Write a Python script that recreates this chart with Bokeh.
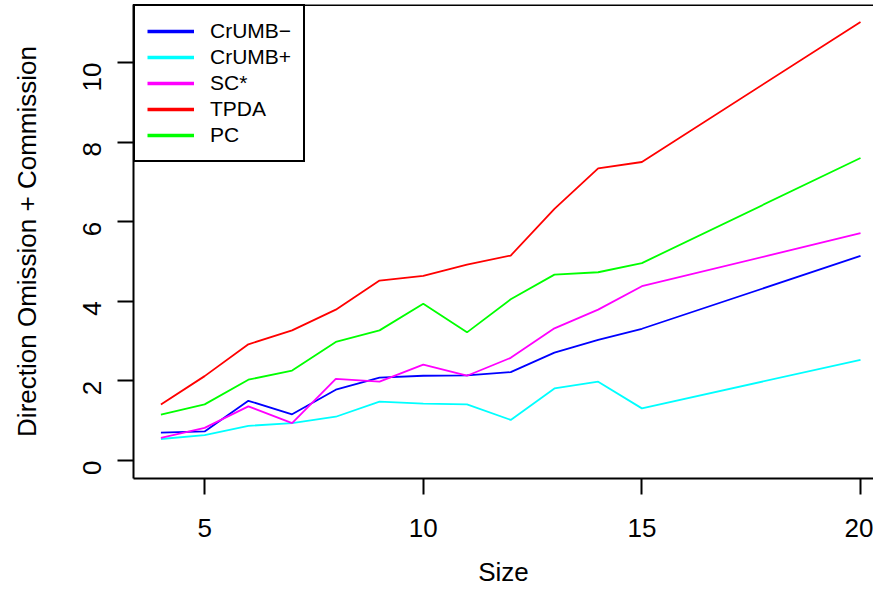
import math
from bokeh.plotting import figure
from bokeh.models import FixedTicker, Span, Legend, LegendItem, Range1d
from bokeh.embed import file_html
from bokeh.resources import INLINE

# ---- data ----
size = [4, 5, 6, 7, 8, 9, 10, 11, 12, 13, 14, 15, 20]
crumb_minus = [0.70, 0.73, 1.50, 1.16, 1.78, 2.08, 2.13, 2.14, 2.22, 2.71, 3.03, 3.31, 5.14]
crumb_plus = [0.54, 0.64, 0.87, 0.94, 1.10, 1.48, 1.43, 1.41, 1.02, 1.81, 1.98, 1.31, 2.53]
sc_star = [0.57, 0.82, 1.36, 0.94, 2.05, 1.98, 2.41, 2.13, 2.58, 3.32, 3.79, 4.38, 5.71]
tpda = [1.41, 2.12, 2.92, 3.27, 3.79, 4.52, 4.64, 4.92, 5.15, 6.32, 7.34, 7.50, 11.02]
pc = [1.15, 1.41, 2.03, 2.26, 2.98, 3.27, 3.94, 3.22, 4.05, 4.67, 4.73, 4.96, 7.60]

series_names = ["CrUMB\u2212", "CrUMB+", "SC*", "TPDA", "PC"]
series_values = [crumb_minus, crumb_plus, sc_star, tpda, pc]
series_colors = ["#0000FF", "#00FFFF", "#FF00FF", "#FF0000", "#00FF00"]

x_ticks = [5, 10, 15, 20]
y_ticks = [0, 2, 4, 6, 8, 10]

FONT = "Liberation Sans"
FS = "26px"
LFS = "21px"

y_start, y_end = -0.452, 11.457
p = figure(
    width=873, height=590,
    x_range=Range1d(3.373, 20.297), y_range=Range1d(y_start, y_end),
    output_backend="svg", toolbar_location=None,
    min_border_left=133, min_border_right=0, min_border_top=4, min_border_bottom=112,
    background_fill_color="white", border_fill_color="white",
)
p.outline_line_color = None
p.grid.visible = False

for ax in (p.xaxis, p.yaxis):
    ax.axis_line_color = "black"
    ax.axis_line_width = 2
    ax.major_tick_line_color = "black"
    ax.major_tick_line_width = 2
    ax.major_tick_out = 16
    ax.major_tick_in = 0
    ax.minor_tick_line_color = None
    ax.major_label_text_font = FONT
    ax.major_label_text_font_size = FS
    ax.major_label_text_color = "black"
    ax.axis_label_text_font = FONT
    ax.axis_label_text_font_size = FS
    ax.axis_label_text_font_style = "normal"
    ax.axis_label_text_color = "black"

p.xaxis.ticker = FixedTicker(ticks=x_ticks)
p.yaxis.ticker = FixedTicker(ticks=y_ticks)
p.xaxis.axis_label = "Size"
p.yaxis.axis_label = "Direction Omission + Commission"
p.xaxis.major_label_standoff = 24
p.xaxis.axis_label_standoff = 17
p.yaxis.major_label_orientation = math.pi / 2
p.yaxis.major_label_standoff = 25
p.yaxis.axis_label_standoff = 30

# top border of the box
p.add_layout(Span(location=y_end, dimension="width", line_color="black", line_width=3))

items = []
nan = float("nan")
for name, vals, col in zip(series_names, series_values, series_colors):
    p.line(size, vals, line_color=col, line_width=1.8)
    dummy = p.line([nan], [nan], line_color=col, line_width=3.5)
    items.append(LegendItem(label=name, renderers=[dummy]))

legend = Legend(
    items=items, location="top_left", margin=0, padding=12, spacing=0,
    glyph_width=47, glyph_height=26, label_height=26, label_standoff=16,
    label_text_font=FONT, label_text_font_size=LFS, label_text_color="black",
    border_line_color="black", border_line_width=2, border_line_alpha=1.0,
    background_fill_color="white", background_fill_alpha=1.0,
)
p.add_layout(legend, "center")

open("out.html", "w").write(file_html(p, INLINE))
